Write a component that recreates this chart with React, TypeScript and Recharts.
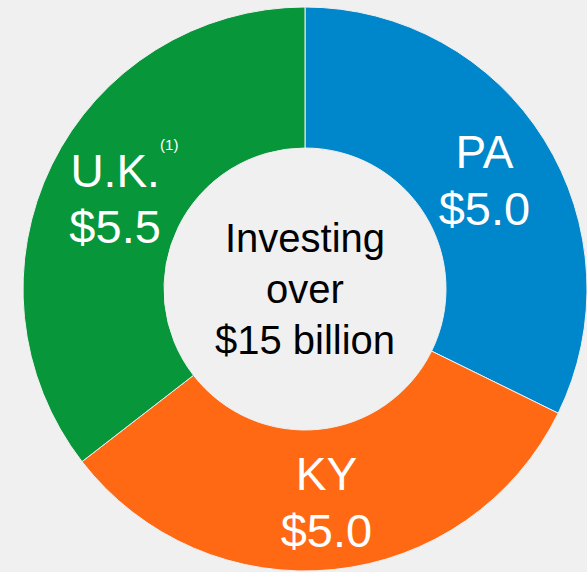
import React from 'react';
import { PieChart, Pie, Cell, Label } from 'recharts';

const regions = ['PA', 'KY', 'U.K.'];
const amounts = [5.0, 5.0, 5.5];
const notes = ['', '', '(1)'];
const colors = ['#0086ca', '#ff6914', '#08963a'];
const centerLines = ['Investing', 'over', '$15 billion'];

const data = regions.map((name, i) => ({ name, value: amounts[i], note: notes[i] }));

const FONT = '"Liberation Sans", Arial, sans-serif';
const RADIAN = Math.PI / 180;
const CX = 305;
const CY = 289;

const renderSliceLabel = (props: any) => {
  const { cx, cy, midAngle, innerRadius, outerRadius, payload } = props;
  const r = (innerRadius + outerRadius) / 2;
  const x = cx + r * Math.cos(-midAngle * RADIAN);
  const y = cy + r * Math.sin(-midAngle * RADIAN);
  const item = payload.payload ?? payload;
  return (
    <g>
      <text x={x} y={y - 25} fill="#fff" textAnchor="middle" dominantBaseline="central"
        fontFamily={FONT} fontSize={46}>
        {item.name}
      </text>
      {item.note ? (
        <text x={x + 45} y={y - 51} fill="#fff" textAnchor="start" dominantBaseline="central"
          fontFamily={FONT} fontSize={15}>
          {item.note}
        </text>
      ) : null}
      <text x={x} y={y + 31} fill="#fff" textAnchor="middle" dominantBaseline="central"
        fontFamily={FONT} fontSize={47}>
        {`$${item.value.toFixed(1)}`}
      </text>
    </g>
  );
};

const CenterText = (props: any) => {
  const vb = props.viewBox || {};
  const cx = vb.cx ?? CX;
  const cy = vb.cy ?? CY;
  return (
    <g>
      {centerLines.map((line, i) => (
        <text key={line} x={cx} y={cy + (i - 1) * 51} fill="#000" textAnchor="middle"
          dominantBaseline="central" fontFamily={FONT} fontSize={40}>
          {line}
        </text>
      ))}
    </g>
  );
};

export default function App() {
  return (
    <div style={{ width: 587, height: 572, background: '#f0f0f0' }}>
      <style>{'body{margin:0;background:#f0f0f0}'}</style>
      <PieChart width={587} height={572} margin={{ top: 0, right: 0, bottom: 0, left: 0 }}>
        <Pie
          data={data}
          dataKey="value"
          nameKey="name"
          cx={CX}
          cy={CY}
          innerRadius={141}
          outerRadius={282}
          startAngle={90}
          endAngle={-270}
          stroke="#f0f0f0"
          strokeWidth={1}
          label={renderSliceLabel}
          labelLine={false}
          isAnimationActive={false}
        >
          {data.map((d, i) => (
            <Cell key={d.name} fill={colors[i]} />
          ))}
          <Label position="center" content={<CenterText />} />
        </Pie>
      </PieChart>
    </div>
  );
}
